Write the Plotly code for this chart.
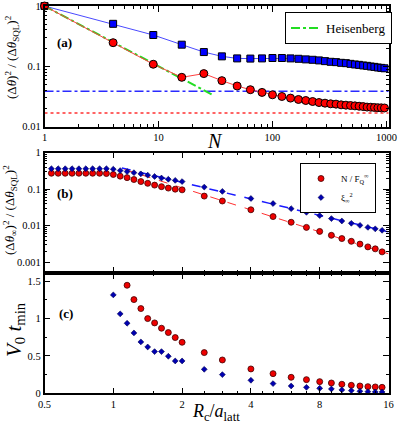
import plotly.graph_objects as go

# ---- panel (a): N = 1, 4, 9, ... ----
N_a = [1, 4, 9, 16, 25, 36, 49, 64, 81, 100, 121, 144, 169, 196, 225, 256, 289,
       324, 361, 400, 441, 484, 529, 576, 625, 676, 729, 784, 841, 900, 961]
blue_a = [1.0, 0.506, 0.33, 0.228, 0.172, 0.146, 0.135, 0.134, 0.135, 0.137,
          0.137, 0.135, 0.133, 0.130, 0.128, 0.125, 0.1216, 0.1185, 0.117, 0.114,
          0.1125, 0.1096, 0.107, 0.1055, 0.103, 0.1016, 0.099, 0.0977, 0.0953, 0.094,
          0.0925]
red_a = [1.0, 0.246, 0.108, 0.0655, 0.0755, 0.0577, 0.047, 0.0408, 0.0368, 0.0336,
         0.0315, 0.0296, 0.0281, 0.027, 0.026, 0.025, 0.0244, 0.0238, 0.0235, 0.0229,
         0.0226, 0.0223, 0.022, 0.0217, 0.0214, 0.021, 0.0209, 0.0207, 0.0205, 0.0204,
         0.0203]
heis_N = [1, 30]
heis_y = [1.0, 0.0333]
span_a = [1, 1100]
hline_blue = 0.0386
hline_red = 0.0167

# ---- panel (b) ----
Rc_b = [0.536, 0.574, 0.616, 0.660, 0.707, 0.758, 0.812, 0.871, 0.933, 1.0,
        1.072, 1.149, 1.231, 1.320, 1.414, 1.516, 1.625, 1.741, 1.866, 2.0,
        2.5, 3, 4, 5, 6, 7, 8, 9, 10, 11, 12, 13, 14, 15]
nfq_b = [0.27, 0.27, 0.27, 0.27, 0.27, 0.27, 0.27, 0.27, 0.265, 0.25,
         0.225, 0.205, 0.182, 0.16, 0.143, 0.128, 0.116, 0.106, 0.099, 0.095,
         0.064, 0.047, 0.027, 0.0176, 0.0123, 0.0089, 0.0069, 0.0054, 0.0044, 0.0037,
         0.0031, 0.0026, 0.0023, 0.0019]
xi_b = [0.36, 0.36, 0.36, 0.36, 0.36, 0.36, 0.36, 0.36, 0.36, 0.35,
        0.32, 0.30, 0.28, 0.26, 0.24, 0.22, 0.20, 0.185, 0.172, 0.16,
        0.113, 0.086, 0.055, 0.040, 0.029, 0.023, 0.0187, 0.0155, 0.0133, 0.0115,
        0.0101, 0.0089, 0.0081, 0.0074]
fit_xi_x = [1.09, 16]
fit_xi_y = [0.378, 0.0067]
fit_nfq_x = [1.12, 16]
fit_nfq_y = [0.343, 0.00168]

# ---- panel (c) ----
Rc_c = [1.0, 1.072, 1.149, 1.231, 1.320, 1.414, 1.516, 1.625, 1.741, 1.866, 2.0,
        2.5, 3, 4, 5, 6, 7, 8, 9, 10, 11, 12, 13, 14, 15]
tmin_red = [None, None, 1.446, 1.254, 1.134, 1.0, 0.942, 0.871, 0.813, 0.746, 0.683,
            0.545, 0.446, 0.326, 0.263, 0.214, 0.183, 0.156, 0.138, 0.121, 0.107,
            0.098, 0.089, 0.085, 0.080]
tmin_blue = [1.317, 1.063, 0.9375, 0.808, 0.6875, 0.62, 0.558, 0.558, 0.496, 0.433,
             0.433, 0.321, 0.25, 0.174, 0.13, 0.098, 0.08, 0.067, 0.058, 0.045,
             0.036, 0.027, 0.022, 0.018, 0.018]

SERIF = "Liberation Serif"
W, H = 399, 424


def py(px):
    return 1 - px / H


def px_x(px):
    return px / W


fig = go.Figure()

# panel (a)
fig.add_trace(go.Scatter(x=span_a, y=[hline_blue, hline_blue], mode='lines', xaxis='x', yaxis='y',
                         line=dict(color='#2a2aff', width=1.5, dash='dashdot'), showlegend=False))
fig.add_trace(go.Scatter(x=span_a, y=[hline_red, hline_red], mode='lines', xaxis='x', yaxis='y',
                         line=dict(color='#ff3030', width=1.5, dash='dot'), showlegend=False))
fig.add_trace(go.Scatter(x=N_a, y=blue_a, mode='lines+markers', xaxis='x', yaxis='y',
                         line=dict(color='#4a4aff', width=1),
                         marker=dict(symbol='square', size=7, color='#0000ff',
                                     line=dict(color='black', width=1)),
                         cliponaxis=False, showlegend=False))
fig.add_trace(go.Scatter(x=heis_N, y=heis_y, mode='lines', xaxis='x', yaxis='y',
                         line=dict(color='#22dd22', width=2, dash='dashdot'),
                         name='Heisenberg', legend='legend'))
fig.add_trace(go.Scatter(x=N_a, y=red_a, mode='lines+markers', xaxis='x', yaxis='y',
                         line=dict(color='#ff4040', width=1),
                         marker=dict(symbol='circle', size=8, color='#ff0000',
                                     line=dict(color='black', width=1)),
                         cliponaxis=False, showlegend=False))

# panel (b)
fig.add_trace(go.Scatter(x=fit_xi_x, y=fit_xi_y, mode='lines', xaxis='x2', yaxis='y2',
                         line=dict(color='#1a1aff', width=1.5, dash='dash'), showlegend=False))
fig.add_trace(go.Scatter(x=fit_nfq_x, y=fit_nfq_y, mode='lines', xaxis='x2', yaxis='y2',
                         line=dict(color='#ff3030', width=1, dash='dash'), showlegend=False))
fig.add_trace(go.Scatter(x=Rc_b, y=nfq_b, mode='markers', xaxis='x2', yaxis='y2',
                         marker=dict(symbol='circle', size=6, color='#ee0000',
                                     line=dict(color='#400000', width=0.8)),
                         name='N / F<sub>Q</sub><sup>∞</sup>', legend='legend2'))
fig.add_trace(go.Scatter(x=Rc_b, y=xi_b, mode='markers', xaxis='x2', yaxis='y2',
                         marker=dict(symbol='diamond', size=4.5, color='#0000b0',
                                     line=dict(color='#000050', width=0.6)),
                         name='ξ<sub>∞</sub><sup>2</sup>', legend='legend2'))

# panel (c)
fig.add_trace(go.Scatter(x=Rc_c, y=tmin_red, mode='markers', xaxis='x3', yaxis='y3',
                         marker=dict(symbol='circle', size=6, color='#ee0000',
                                     line=dict(color='#400000', width=0.8)),
                         showlegend=False))
fig.add_trace(go.Scatter(x=Rc_c, y=tmin_blue, mode='markers', xaxis='x3', yaxis='y3',
                         marker=dict(symbol='diamond', size=4.5, color='#0000b0',
                                     line=dict(color='#000050', width=0.6)),
                         showlegend=False))

tickfont = dict(family=SERIF, size=10.5, color='black')
frame = dict(showline=True, linecolor='black', linewidth=1.5, mirror='allticks',
             ticks='inside', ticklen=6, tickwidth=1, tickcolor='black', automargin=False,
             showgrid=False, zeroline=False, tickfont=tickfont)

log_minor = [m * d for d in (0.001, 0.01, 0.1, 1, 10, 100) for m in range(2, 10)]
rc_minor = [1.5, 2.5, 3, 3.5, 4.5, 5, 6, 7, 9, 10, 12, 14]

dom_x = [px_x(44.5), px_x(388.5)]

fig.update_layout(
    width=W, height=H,
    margin=dict(l=0, r=0, t=0, b=0, autoexpand=False),
    paper_bgcolor='white', plot_bgcolor='white',
    font=dict(family=SERIF, color='black'),
    xaxis=dict(frame, anchor='y', domain=dom_x, type='log', range=[0, 3.018],
               tickvals=[1, 10, 100, 1000], ticktext=['1', '10', '100', '1000'],
               minor=dict(tickvals=log_minor, ticks='inside', ticklen=3, tickcolor='black')),
    yaxis=dict(frame, anchor='x', domain=[py(126.5), py(6)], type='log', range=[-2, 0],
               tickvals=[0.01, 0.1, 1], ticktext=['0.01', '0.1', '1'],
               minor=dict(tickvals=log_minor, ticks='inside', ticklen=3, tickcolor='black')),
    xaxis2=dict(frame, anchor='y2', domain=dom_x, type='log', matches='x3',
                range=[-0.30103, 1.20412], tickvals=[0.5, 1, 2, 4, 8, 16], showticklabels=False,
                minor=dict(tickvals=rc_minor, ticks='inside', ticklen=3, tickcolor='black')),
    yaxis2=dict(frame, anchor='x2', domain=[py(273), py(152.5)], type='log', range=[-3.3, 0],
                tickvals=[0.001, 0.01, 0.1, 1], ticktext=['0.001', '0.01', '0.1', '1'],
                minor=dict(tickvals=log_minor, ticks='inside', ticklen=3, tickcolor='black')),
    xaxis3=dict(frame, anchor='y3', domain=dom_x, type='log', range=[-0.30103, 1.20412],
                tickvals=[0.5, 1, 2, 4, 8, 16], ticktext=['0.5', '1', '2', '4', '8', '16'],
                minor=dict(tickvals=rc_minor, ticks='inside', ticklen=3, tickcolor='black')),
    yaxis3=dict(frame, anchor='x3', domain=[py(393.3), py(273)], range=[0, 1.61],
                tickvals=[0, 0.5, 1, 1.5], ticktext=['0', '0.5', '1', '1.5'],
                minor=dict(dtick=0.25, ticks='inside', ticklen=3, tickcolor='black')),
    legend=dict(x=px_x(285), y=py(12), xanchor='left', yanchor='top',
                bgcolor='white', bordercolor='black', borderwidth=1,
                font=dict(family=SERIF, size=13), itemwidth=30),
    legend2=dict(x=px_x(300), y=py(163), xanchor='left', yanchor='top',
                 bgcolor='white', bordercolor='black', borderwidth=1,
                 font=dict(family=SERIF, size=9), itemwidth=30, tracegroupgap=0),
)


def label(text, x, y, size, angle=0):
    # explicit anchors: 'auto' on paper refs snaps to left/top/bottom near the edges
    fig.add_annotation(xref='paper', yref='paper', x=px_x(x), y=py(y),
                       xanchor='center', yanchor='middle', showarrow=False,
                       textangle=angle, text=text,
                       font=dict(family=SERIF, size=size, color='black'))


label('<b>(a)</b>', 64, 42.5, 13)
label('<b>(b)</b>', 64.5, 193, 13)
label('<b>(c)</b>', 66, 313, 13)

label('<i>N</i>', 215, 141, 20)
label('<i>R</i><sub>c</sub>/<i>a</i><sub>latt</sub>', 216, 412, 18)

label('(Δ<i>θ</i>)<sup>2</sup>&nbsp;/&nbsp;(Δ<i>θ</i><sub>SQL</sub>)<sup>2</sup>', 12, 57, 13, -90)
label('(Δ<i>θ</i><sub>∞</sub>)<sup>2</sup>&nbsp;/&nbsp;(Δ<i>θ</i><sub>SQL</sub>)<sup>2</sup>',
      10, 210, 13, -90)
label('<i>V</i><sub>0</sub> <i>t</i><sub>min</sub>', 15, 330, 21, -90)

# the page's default 8px body margin would push the figure off the window
fig.write_html("out.html", config={'displayModeBar': False},
               post_script="document.body.style.margin='0';")
